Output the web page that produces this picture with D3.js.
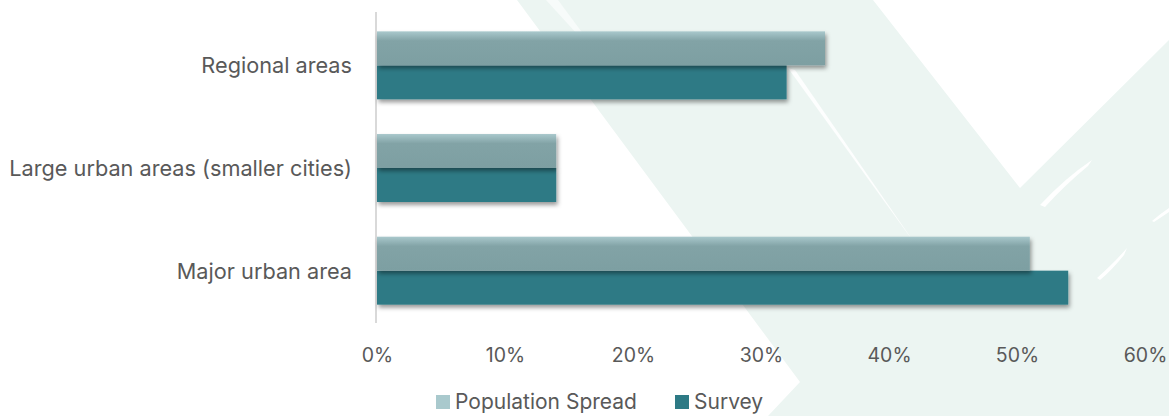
<!DOCTYPE html>
<html>
<head>
<meta charset="utf-8">
<script src="https://cdn.jsdelivr.net/npm/d3@7/dist/d3.min.js"></script>
<style>
  html, body { margin: 0; padding: 0; background: #ffffff; }
  svg { display: block; }
  text { font-family: "Inter", "Noto Sans", sans-serif; }
</style>
</head>
<body>
<svg id="chart" width="1169" height="416"></svg>
<script>
// ---- data ----
const categories = ["Regional areas", "Large urban areas (smaller cities)", "Major urban area"];
const seriesNames = ["Population Spread", "Survey"];
const populationSpread = [0.35, 0.14, 0.51];
const survey = [0.32, 0.14, 0.54];
const xTicks = [0, 0.1, 0.2, 0.3, 0.4, 0.5, 0.6];

const W = 1169, H = 416;
const svg = d3.select("#chart");
const defs = svg.append("defs");

// background decoration
const bg = svg.append("g");
bg.append("rect").attr("width", W).attr("height", H).attr("fill", "#ffffff");
bg.append("path")
  .attr("d", "M517,0 L873,0 L1020,188 L1169,40 L1169,416 L768,416 L800,382 Z")
  .attr("fill", "#ecf5f2");
bg.append("path").attr("d", "M546,0 L558,0 L610,70 Z").attr("fill", "#ffffff").attr("opacity", 0.6);
bg.append("path").attr("d", "M788,68 L795,70 L918,248 Z").attr("fill", "#ffffff").attr("opacity", 0.9);
bg.append("path").attr("d", "M1040,205 Q1065,178 1092,160 L1088,166 Q1065,185 1045,207 Z").attr("fill", "#ffffff");
bg.append("path").attr("d", "M1097,278 Q1115,262 1127,248 L1124,255 Q1112,270 1100,280 Z").attr("fill", "#ffffff");
bg.append("path").attr("d", "M1152,221 Q1160,214 1169,208 L1169,212 Q1160,218 1154,222 Z").attr("fill", "#ffffff");

// shadow filter
const f = defs.append("filter").attr("id", "sh").attr("x", "-5%").attr("y", "-30%").attr("width", "110%").attr("height", "180%");
f.append("feDropShadow").attr("dx", 1.5).attr("dy", 3).attr("stdDeviation", 2)
  .attr("flood-color", "#000").attr("flood-opacity", 0.4);

const grad = defs.append("linearGradient").attr("id", "popg").attr("x1", 0).attr("x2", 0).attr("y1", 0).attr("y2", 1);
grad.append("stop").attr("offset", "0%").attr("stop-color", "#a9c8cc");
grad.append("stop").attr("offset", "28%").attr("stop-color", "#82a3a6");
grad.append("stop").attr("offset", "100%").attr("stop-color", "#7d9fa2");

// scales
const x = d3.scaleLinear().domain([0, 0.6]).range([377, 1145]);
const y = d3.scaleBand().domain(categories).range([14, 322]).paddingInner(0.338).paddingOuter(0.169);
const ySub = d3.scaleBand().domain(seriesNames).range([0, y.bandwidth()]);

const fills = { "Population Spread": "url(#popg)", "Survey": "#2d7a85" };
const vals = { "Population Spread": populationSpread, "Survey": survey };

// axis line
svg.append("line").attr("x1", 376).attr("x2", 376).attr("y1", 12).attr("y2", 323)
  .attr("stroke", "#d9d9d9").attr("stroke-width", 2);

const barG = svg.append("g");
categories.forEach((c, i) => {
  ["Survey", "Population Spread"].forEach(s => {
    barG.append("rect")
      .attr("x", x(0))
      .attr("y", y(c) + ySub(s))
      .attr("width", x(vals[s][i]) - x(0))
      .attr("height", ySub.bandwidth())
      .attr("fill", fills[s])
      .attr("filter", "url(#sh)");
  });
});

// category labels
svg.append("g").selectAll("text").data(categories).join("text")
  .attr("x", 352).attr("y", d => y(d) + y.bandwidth() / 2)
  .attr("text-anchor", "end").attr("dominant-baseline", "central")
  .attr("font-size", 21.7).attr("fill", "#595959").text(d => d);

// x axis tick labels
const xAxis = d3.axisBottom(x).tickValues(xTicks).tickFormat(d3.format(".0%")).tickSize(0).tickPadding(0);
const ax = svg.append("g").attr("transform", "translate(0,355)").call(xAxis);
ax.select(".domain").remove();
ax.selectAll("text").attr("font-size", 19.5).attr("fill", "#595959")
  .attr("font-family", "'Liberation Sans', Arial, sans-serif").attr("dy", null).attr("dominant-baseline", "central");

// legend
const legendColors = ["#a9c9cd", "#2d7a85"];
const lg = svg.append("g");
const lx = [436, 675];
seriesNames.forEach((s, i) => {
  lg.append("rect").attr("x", lx[i]).attr("y", 395).attr("width", 14).attr("height", 14).attr("fill", legendColors[i]);
  lg.append("text").attr("x", lx[i] + 19).attr("y", 401).attr("dominant-baseline", "central")
    .attr("font-size", 21).attr("fill", "#595959").text(s);
});
</script>
</body>
</html>
